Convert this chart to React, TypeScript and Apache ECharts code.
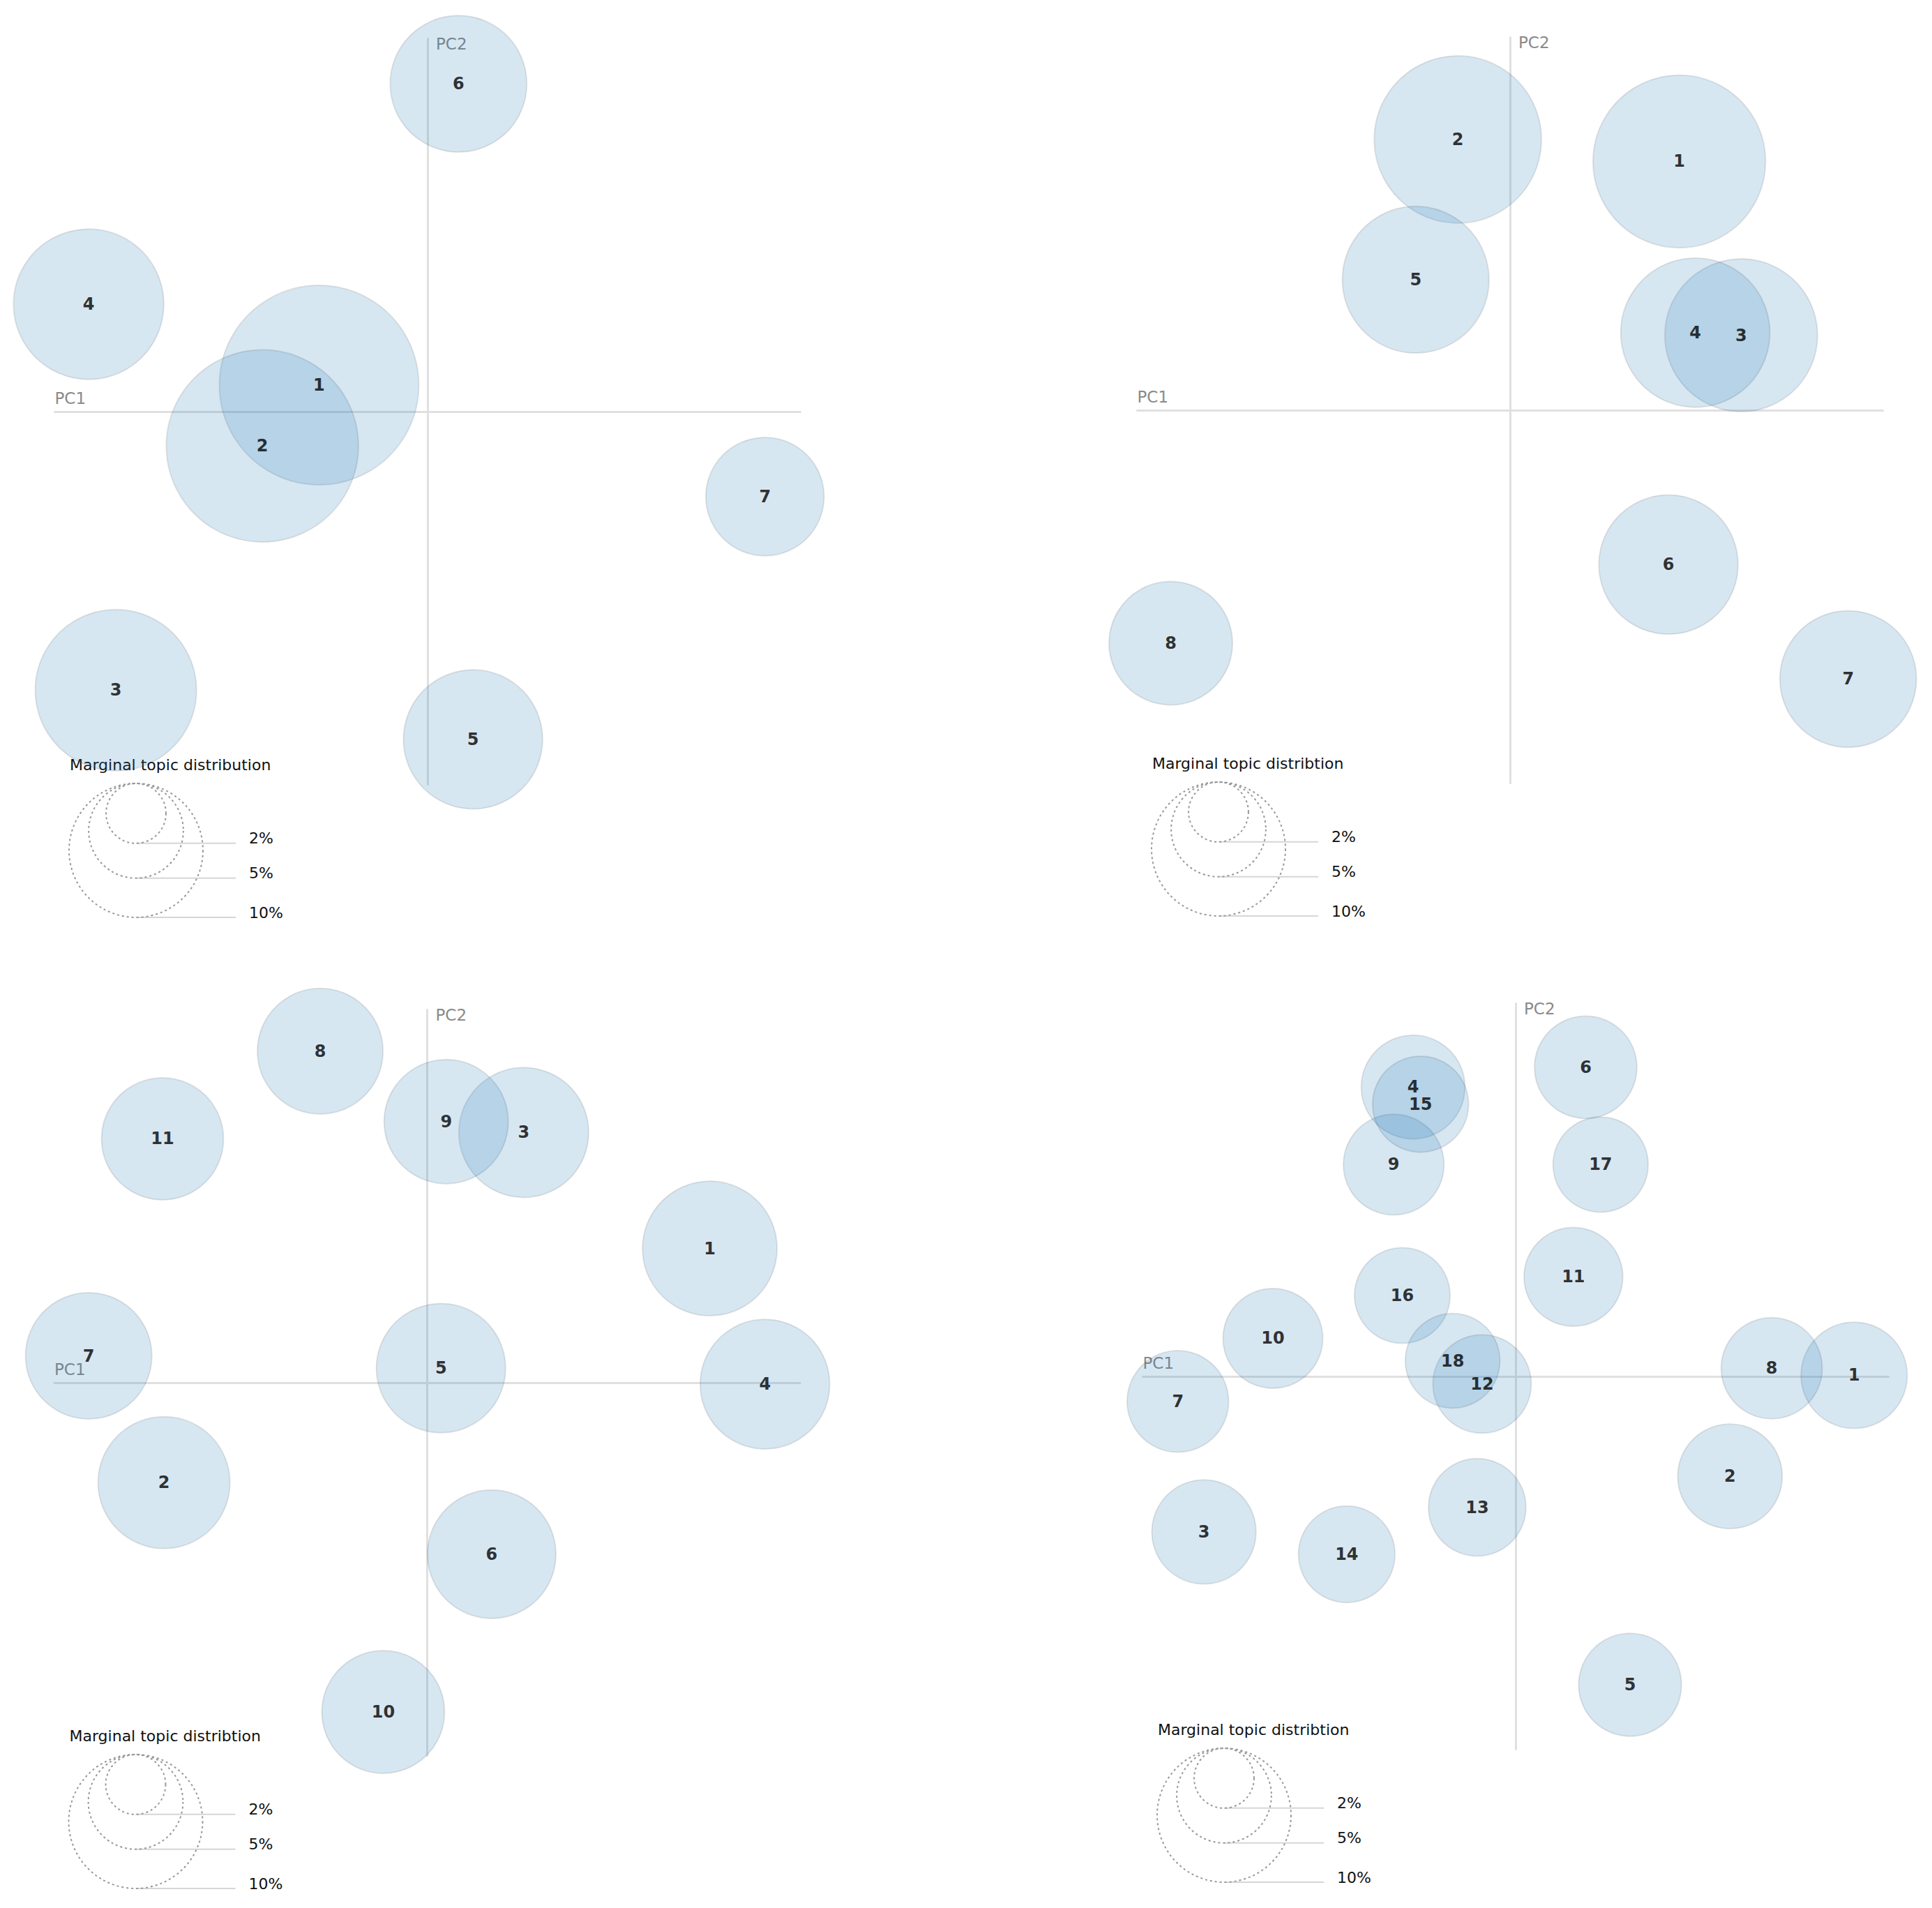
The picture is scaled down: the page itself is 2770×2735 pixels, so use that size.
import React, { useEffect, useRef } from "react";
import * as echarts from "echarts";

// ---------- data (PC1 / PC2 coordinates, marginal topic share in %) ----------
// Panel 1 (top-left)
const p1Topics = ["1", "2", "3", "4", "5", "6", "7"];
const p1PC1 = [-0.291, -0.443, -0.836, -0.909, 0.122, 0.083, 0.905];
const p1PC2 = [0.071, -0.092, -0.747, 0.288, -0.879, 0.879, -0.228];
const p1Share = [22.2, 20.6, 14.5, 12.6, 10.8, 10.4, 7.8];

// Panel 2 (top-right)
const p2Topics = ["1", "2", "3", "4", "5", "6", "7", "8"];
const p2PC1 = [0.454, -0.14, 0.62, 0.497, -0.253, 0.425, 0.907, -0.91];
const p2PC2 = [0.667, 0.726, 0.201, 0.208, 0.35, -0.414, -0.721, -0.625];
const p2Share = [16.6, 15.6, 13.0, 12.4, 12.0, 10.8, 10.4, 8.5];

// Panel 3 (bottom-left)
const p3Topics = ["1", "2", "3", "4", "5", "6", "7", "8", "9", "10", "11"];
const p3PC1 = [0.758, -0.706, 0.259, 0.906, 0.037, 0.173, -0.908, -0.287, 0.051, -0.118, -0.71];
const p3PC2 = [0.36, -0.268, 0.671, -0.004, 0.039, -0.46, 0.072, 0.889, 0.7, -0.883, 0.654];
const p3Share = [10.1, 9.7, 9.4, 9.35, 9.3, 9.2, 8.9, 8.8, 8.6, 8.4, 8.3];

// Panel 4 (bottom-right)
const p4Topics = ["1", "2", "3", "4", "5", "6", "7", "8", "9", "10", "11", "12", "13", "14", "15", "16", "17", "18"];
const p4PC1 = [0.908, 0.575, -0.836, -0.275, 0.307, 0.188, -0.906, 0.687, -0.327, -0.651, 0.155, -0.09, -0.103, -0.453, -0.255, -0.304, 0.228, -0.169];
const p4PC2 = [0.003, -0.268, -0.417, 0.776, -0.827, 0.829, -0.067, 0.022, 0.568, 0.102, 0.267, -0.02, -0.351, -0.477, 0.73, 0.217, 0.568, 0.042];
const p4Share = [6.3, 6.1, 6.05, 6.0, 5.9, 5.85, 5.75, 5.7, 5.65, 5.55, 5.45, 5.4, 5.3, 5.2, 5.15, 5.1, 5.05, 5.0];

// Legend
const legendShares = [2, 5, 10];
const legendLabels = ["2%", "5%", "10%"];
const legendTitles = [
  "Marginal topic distribution",
  "Marginal topic distribtion",
  "Marginal topic distribtion",
  "Marginal topic distribtion",
];
const axisNames = ["PC1", "PC2"];

// ---------- layout ----------
const FONT = "DejaVu Sans";
const HALF = 534.5;
const R10 = 96; // radius in px of a 10% topic
const radiusOf = (share: number) => R10 * Math.sqrt(share / 10);
const panelCenters: [number, number][] = [
  [613, 590],
  [2165, 588],
  [612.5, 1982],
  [2173, 1973],
];

const panels = [
  { topics: p1Topics, pc1: p1PC1, pc2: p1PC2, share: p1Share },
  { topics: p2Topics, pc1: p2PC1, pc2: p2PC2, share: p2Share },
  { topics: p3Topics, pc1: p3PC1, pc2: p3PC2, share: p3Share },
  { topics: p4Topics, pc1: p4PC1, pc2: p4PC2, share: p4Share },
];

function buildOption() {
  const grid: any[] = [];
  const xAxis: any[] = [];
  const yAxis: any[] = [];
  const series: any[] = [];
  const graphic: any[] = [];

  panels.forEach((p, i) => {
    const [cx, cy] = panelCenters[i];
    grid.push({ left: cx - HALF, top: cy - HALF, width: 2 * HALF, height: 2 * HALF });
    xAxis.push({
      gridIndex: i,
      type: "value",
      min: -1,
      max: 1,
      axisLine: { show: true, onZero: true, lineStyle: { color: "#e0e0e0", width: 3 } },
      axisTick: { show: false },
      axisLabel: { show: false },
      splitLine: { show: false },
      name: axisNames[0],
      nameLocation: "start",
      nameGap: 0,
      nameTextStyle: {
        align: "left",
        verticalAlign: "bottom",
        color: "#8a8a8a",
        fontSize: 23,
        fontFamily: FONT,
        padding: [0, 0, 8, 0],
      },
    });
    yAxis.push({
      gridIndex: i,
      type: "value",
      min: -1,
      max: 1,
      axisLine: { show: true, onZero: true, lineStyle: { color: "#e0e0e0", width: 3 } },
      axisTick: { show: false },
      axisLabel: { show: false },
      splitLine: { show: false },
      name: axisNames[1],
      nameLocation: "end",
      nameGap: 4,
      nameTextStyle: {
        align: "left",
        verticalAlign: "top",
        color: "#8a8a8a",
        fontSize: 23,
        fontFamily: FONT,
        padding: [0, 0, 0, 12],
      },
    });
    series.push({
      type: "scatter",
      xAxisIndex: i,
      yAxisIndex: i,
      silent: true,
      data: p.topics.map((t, k) => ({ name: t, value: [p.pc1[k], p.pc2[k], p.share[k]] })),
      symbolSize: (v: number[]) => 2 * radiusOf(v[2]),
      itemStyle: {
        color: "rgba(31,119,180,0.22)",
        borderColor: "rgba(0,0,0,0.12)",
        borderWidth: 2,
      },
      label: {
        show: true,
        position: "inside",
        formatter: "{b}",
        color: "#000",
        fontWeight: "bold",
        fontSize: 24,
        fontFamily: FONT,
      },
      emphasis: { disabled: true },
    });

    // legend: title, nested circles sharing their top, leader lines and labels
    const lx = cx - 418;
    const topY = cy + 533;
    graphic.push({
      type: "text",
      x: cx - 513,
      y: cy + 517,
      silent: true,
      style: {
        text: legendTitles[i],
        fill: "#111",
        fontSize: 22,
        fontFamily: FONT,
        align: "left",
        verticalAlign: "bottom",
      },
    });
    legendShares.forEach((s, k) => {
      const r = radiusOf(s);
      const by = topY + 2 * r;
      graphic.push({
        type: "line",
        silent: true,
        shape: { x1: lx, y1: by, x2: cx - 275, y2: by },
        style: { stroke: "#d6d6d6", lineWidth: 2 },
      });
      graphic.push({
        type: "circle",
        silent: true,
        shape: { cx: lx, cy: topY + r, r },
        style: { fill: "none", stroke: "#999999", lineWidth: 2, lineDash: [3, 4] },
      });
      graphic.push({
        type: "text",
        x: cx - 256,
        y: by + 4,
        silent: true,
        style: {
          text: legendLabels[k],
          fill: "#111",
          fontSize: 22,
          fontFamily: FONT,
          align: "left",
          verticalAlign: "bottom",
        },
      });
    });
  });

  return {
    animation: false,
    backgroundColor: "#ffffff",
    grid,
    xAxis,
    yAxis,
    series,
    graphic,
  };
}

export default function App() {
  const ref = useRef<HTMLDivElement>(null);
  useEffect(() => {
    if (!ref.current) return;
    const chart = echarts.init(ref.current, undefined, { renderer: "svg" });
    chart.setOption(buildOption() as any);
    return () => chart.dispose();
  }, []);
  return (
    <div
      ref={ref}
      style={{ position: "absolute", left: 0, top: 0, width: 2770, height: 2735 }}
    />
  );
}
